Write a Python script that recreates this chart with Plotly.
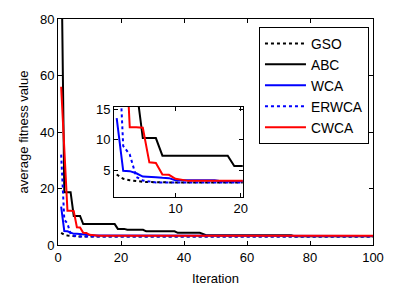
import plotly.graph_objects as go

iterations = list(range(1, 101))

gso = [4.3, 3.6, 3.35, 3.2, 3.1, 3.05] + [3.0] * 94
abc = [110.0, 18.7, 18.7, 18.7, 10.3, 10.3, 10.3] + [7.4] * 11 + [5.7] * 3 + [5.4] * 6 + \
      [4.85] * 10 + [4.3] * 8 + [3.9] + [3.45] * 28 + [3.1] * 26
wca = [13.6, 4.9, 4.85, 4.5, 3.95, 3.95, 3.85, 3.75, 3.7] + [3.35] * 7 + [3.2] * 84
erwca = [32.0, 9.0, 7.6, 3.9, 3.3, 3.1] + [3.0] * 94
cwca = [56.0, 35.0, 12.1, 12.1, 12.0, 6.3, 6.2, 4.3, 4.25, 3.6, 3.4] + [3.25] * 89

series = [
    ("GSO", gso, "black", "dot"),
    ("ABC", abc, "black", "solid"),
    ("WCA", wca, "#0000ff", "solid"),
    ("ERWCA", erwca, "#0000ff", "dot"),
    ("CWCA", cwca, "#ff0000", "solid"),
]

main_xticks = [0, 20, 40, 60, 80, 100]
main_yticks = [0, 20, 40, 60, 80]
inset_xticks = [10, 20]
inset_yticks = [5, 10, 15]

FONT = "Liberation Sans, Arial, sans-serif"

fig = go.Figure()
for i, (name, vals, color, dash) in enumerate(series):
    fig.add_trace(go.Scatter(x=iterations, y=vals, mode="lines", name=name,
                             line=dict(color=color, width=2, dash=dash),
                             xaxis="x", yaxis="y"))
for i, (name, vals, color, dash) in enumerate(series):
    fig.add_trace(go.Scatter(x=iterations, y=vals, mode="lines", name=name,
                             line=dict(color=color, width=2, dash=dash),
                             showlegend=False, xaxis="x2", yaxis="y2"))

axis_common = dict(ticks="inside", ticklen=4, tickcolor="black", mirror="ticks",
                   showline=True, linecolor="black", linewidth=1, showgrid=False,
                   zeroline=False, tickfont=dict(size=13, color="black", family=FONT))

fig.update_layout(
    width=404, height=298,
    margin=dict(l=58, r=31, t=17, b=53),
    paper_bgcolor="white", plot_bgcolor="white",
    font=dict(family=FONT, size=13, color="black"),
    xaxis=dict(range=[0, 100], tickvals=main_xticks, domain=[0, 1], anchor="y",
               title=dict(text="Iteration", font=dict(size=13), standoff=10), **axis_common),
    yaxis=dict(range=[0, 80], tickvals=main_yticks, domain=[0, 1], anchor="x",
               title=dict(text="average fitness value", font=dict(size=13), standoff=8), **axis_common),
    xaxis2=dict(range=[0.6, 20.3], tickvals=inset_xticks, domain=[0.178, 0.5865], anchor="y2",
                **axis_common),
    yaxis2=dict(range=[0.65, 15.5], tickvals=inset_yticks, domain=[0.214, 0.6126], anchor="x2",
                **axis_common),
    legend=dict(x=0.638, y=0.965, xanchor="left", yanchor="top", bgcolor="white",
                bordercolor="black", borderwidth=1, font=dict(size=13.8, family=FONT),
                itemwidth=41),
    showlegend=True,
)
fig.add_shape(type="rect", xref="x2 domain", yref="y2 domain", x0=0, x1=1, y0=0, y1=1,
              fillcolor="white", line=dict(width=0), layer="below")

fig.write_html("out.html", config={"displayModeBar": False},
               post_script="document.body.style.margin='0';document.body.style.padding='0';")
